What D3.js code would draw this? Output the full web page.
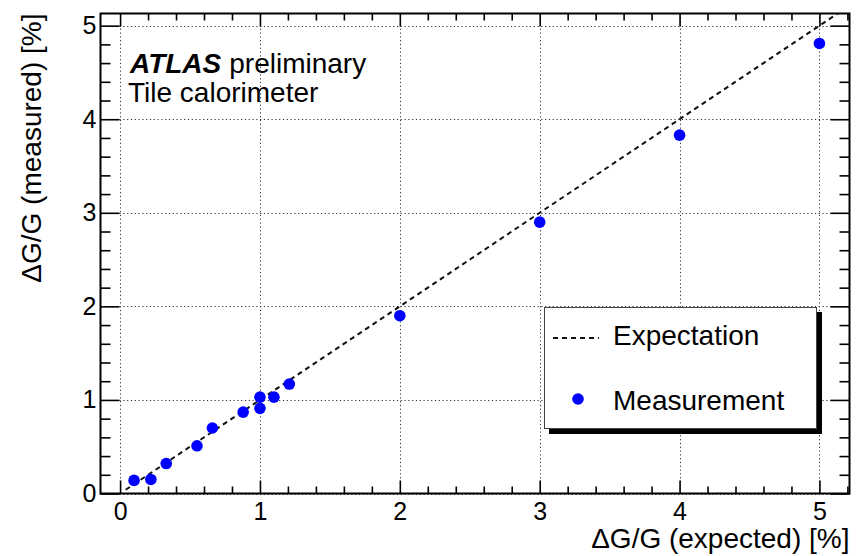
<!DOCTYPE html>
<html>
<head>
<meta charset="utf-8">
<script src="https://cdn.jsdelivr.net/npm/d3@7"></script>
<style>
  html, body { margin: 0; padding: 0; background: #fff; }
  svg { display: block; }
  text { font-family: "Liberation Sans", Arial, Helvetica, sans-serif; fill: #000; }
</style>
</head>
<body>
<svg id="chart" width="856" height="556"></svg>
<script>
// ---- data ----
const expected = [0.10, 0.22, 0.33, 0.55, 0.66, 0.88, 1.00, 1.00, 1.10, 1.21, 2.00, 3.00, 4.00, 5.00];
const measured = [0.14, 0.15, 0.32, 0.51, 0.70, 0.87, 1.03, 0.91, 1.03, 1.17, 1.90, 2.90, 3.83, 4.81];
const expectationLine = [[0.04, 0.04], [5.3, 5.3]];
const xMajorTicks = [0, 1, 2, 3, 4, 5];
const yMajorTicks = [0, 1, 2, 3, 4, 5];
const xMinorTicks = [-0.2, 0.2, 0.4, 0.6, 0.8, 1.2, 1.4, 1.6, 1.8, 2.2, 2.4, 2.6, 2.8, 3.2, 3.4, 3.6, 3.8, 4.2, 4.4, 4.6, 4.8, 5.2];
const yMinorTicks = [0.2, 0.4, 0.6, 0.8, 1.2, 1.4, 1.6, 1.8, 2.2, 2.4, 2.6, 2.8, 3.2, 3.4, 3.6, 3.8, 4.2, 4.4, 4.6, 4.8, 5.2];
const xTitle = "ΔG/G (expected) [%]";
const yTitle = "ΔG/G (measured) [%]";
const legendLabels = ["Expectation", "Measurement"];

// ---- layout ----
const L = 100.5, R = 849.5, T = 13.5, B = 493.5;
const svg = d3.select("#chart");
svg.append("rect").attr("width", 856).attr("height", 556).attr("fill", "#fff");

const x = d3.scaleLinear().domain([-0.14, 5.215]).range([L, R]);
const y = d3.scaleLinear().domain([0, 5.13]).range([B, T]);

const clipId = "plotclip";
svg.append("clipPath").attr("id", clipId)
  .append("rect").attr("x", L).attr("y", T).attr("width", R - L).attr("height", B - T);

// grid
const grid = svg.append("g").attr("stroke", "#333").attr("stroke-width", 1).attr("stroke-dasharray", "1.2,2.6");
grid.selectAll("line.gx").data(xMajorTicks).join("line")
  .attr("x1", d => Math.round(x(d)) + 0.5).attr("x2", d => Math.round(x(d)) + 0.5)
  .attr("y1", T).attr("y2", B);
grid.selectAll("line.gy").data(yMajorTicks).join("line")
  .attr("y1", d => Math.round(y(d)) + 0.5).attr("y2", d => Math.round(y(d)) + 0.5)
  .attr("x1", L).attr("x2", R);

// axes
function styleAxis(g) {
  g.select(".domain").remove();
  g.selectAll(".tick line").attr("stroke", "#000").attr("stroke-width", 1.6);
  g.selectAll("text").style("font-size", "25px").attr("fill", "#000");
}
const xMaj = 13, xMin = 7, yMaj = 19, yMin = 10;
svg.append("g").attr("transform", `translate(0,${B})`)
  .call(d3.axisBottom(x).tickValues(xMajorTicks).tickSizeInner(-xMaj).tickSizeOuter(0).tickPadding(9).tickFormat(d3.format("d")))
  .call(styleAxis);
svg.append("g").attr("transform", `translate(0,${B})`)
  .call(d3.axisBottom(x).tickValues(xMinorTicks.filter(v => x(v) >= L && x(v) <= R)).tickSizeInner(-xMin).tickSizeOuter(0).tickFormat(""))
  .call(styleAxis);
svg.append("g").attr("transform", `translate(0,${T})`)
  .call(d3.axisTop(x).tickValues(xMajorTicks).tickSizeInner(-xMaj).tickSizeOuter(0).tickFormat(""))
  .call(styleAxis);
svg.append("g").attr("transform", `translate(0,${T})`)
  .call(d3.axisTop(x).tickValues(xMinorTicks.filter(v => x(v) >= L && x(v) <= R)).tickSizeInner(-xMin).tickSizeOuter(0).tickFormat(""))
  .call(styleAxis);
svg.append("g").attr("transform", `translate(${L},0)`)
  .call(d3.axisLeft(y).tickValues(yMajorTicks).tickSizeInner(-yMaj).tickSizeOuter(0).tickPadding(4).tickFormat(d3.format("d")))
  .call(styleAxis);
svg.append("g").attr("transform", `translate(${L},0)`)
  .call(d3.axisLeft(y).tickValues(yMinorTicks.filter(v => y(v) >= T)).tickSizeInner(-yMin).tickSizeOuter(0).tickFormat(""))
  .call(styleAxis);
svg.append("g").attr("transform", `translate(${R},0)`)
  .call(d3.axisRight(y).tickValues(yMajorTicks).tickSizeInner(-yMaj).tickSizeOuter(0).tickFormat(""))
  .call(styleAxis);
svg.append("g").attr("transform", `translate(${R},0)`)
  .call(d3.axisRight(y).tickValues(yMinorTicks.filter(v => y(v) >= T)).tickSizeInner(-yMin).tickSizeOuter(0).tickFormat(""))
  .call(styleAxis);

// frame
svg.append("rect").attr("x", L).attr("y", T).attr("width", R - L).attr("height", B - T)
  .attr("fill", "none").attr("stroke", "#000").attr("stroke-width", 2);

// expectation line
const line = d3.line().x(d => x(d[0])).y(d => y(d[1]));
svg.append("path").datum(expectationLine)
  .attr("clip-path", `url(#${clipId})`)
  .attr("d", line).attr("fill", "none").attr("stroke", "#111")
  .attr("stroke-width", 2).attr("stroke-dasharray", "5,4");

// measurement points
svg.append("g").selectAll("circle").data(expected.map((e, i) => [e, measured[i]])).join("circle")
  .attr("cx", d => x(d[0])).attr("cy", d => y(d[1])).attr("r", 5.8).attr("fill", "#0000ff");

// ATLAS label
const lab = svg.append("text").attr("x", 130).attr("y", 73).style("font-size", "28px");
lab.append("tspan").attr("font-weight", "bold").attr("font-style", "italic").text("ATLAS");
lab.append("tspan").attr("dx", 8).text("preliminary");
svg.append("text").attr("x", 128).attr("y", 102).style("font-size", "28px").text("Tile calorimeter");

// axis titles
svg.append("text").attr("x", R).attr("y", 548).attr("text-anchor", "end").style("font-size", "28px").text(xTitle);
svg.append("text").attr("transform", `translate(41,${T}) rotate(-90)`).attr("text-anchor", "end")
  .style("font-size", "28px").text(yTitle);

// legend
const lg = svg.append("g");
lg.append("rect").attr("x", 549).attr("y", 312).attr("width", 273).attr("height", 122).attr("fill", "#000");
lg.append("rect").attr("x", 544.5).attr("y", 307.5).attr("width", 272).attr("height", 121)
  .attr("fill", "#fff").attr("stroke", "#444").attr("stroke-width", 1);
lg.append("line").attr("x1", 553).attr("x2", 599).attr("y1", 338).attr("y2", 338)
  .attr("stroke", "#111").attr("stroke-width", 2).attr("stroke-dasharray", "5,4");
lg.append("circle").attr("cx", 578).attr("cy", 399).attr("r", 5.8).attr("fill", "#0000ff");
lg.selectAll("text.lt").data(legendLabels).join("text")
  .attr("x", 613).attr("y", (d, i) => 345 + i * 65).style("font-size", "28px").text(d => d);
</script>
</body>
</html>
